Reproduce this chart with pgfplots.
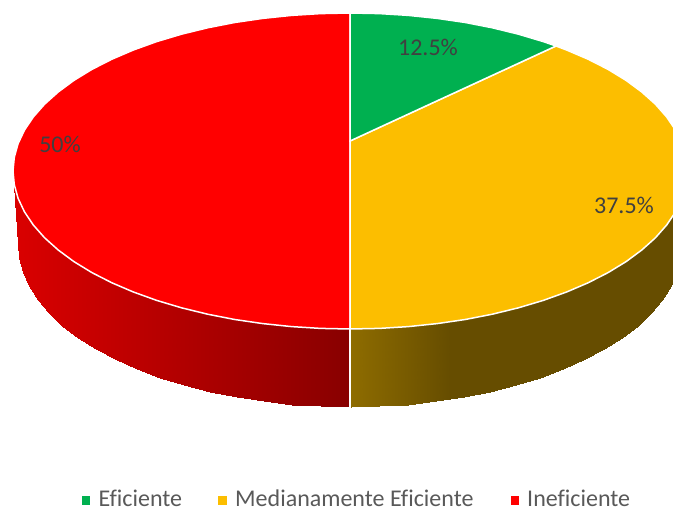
\documentclass[border=0pt]{standalone}
\usepackage{pgfplots}
\pgfplotsset{compat=1.18}
\usepackage{fontspec}
\setmainfont[Ligatures=NoCommon]{Carlito}
\definecolor{cgreen}{RGB}{0,176,80}
\definecolor{cyellow}{RGB}{252,190,0}
\definecolor{cred}{RGB}{255,0,0}
\definecolor{ctext}{RGB}{64,64,64}
\definecolor{clegend}{RGB}{89,89,89}
\pgfplotsset{colormap={side}{rgb255(14pt)=(218,0,0) rgb255(350pt)=(136,0,0) rgb255(351pt)=(142,108,0) rgb255(450pt)=(102,77,0) rgb255(682pt)=(102,77,0)}}
\begin{document}
\begin{tikzpicture}
\useasboundingbox (0,0) rectangle (673pt,508pt);
\clip (0,0) rectangle (673pt,508pt);
\begin{axis}[
  at={(0,0)},anchor=south west,
  width=673pt,height=508pt,scale only axis,hide axis,
  xmin=0,xmax=673,ymin=0,ymax=508,y dir=reverse,
  clip=true,
  colormap name=side,
  point meta min=14,point meta max=682,
]
% side walls
\addplot[surf,shader=interp,mesh/rows=2,point meta=x] table {
x y
14.3 185
18 190
19.3 190
23 190
29.3 190
38 190
49.1 190
62.5 190
78 190
95.7 190
115.2 190
136.6 190
159.6 190
184 190
209.7 190
236.5 190
264.1 190
292.4 190
321.1 190
350 190
18 244
18 244
19.3 258.2
23 272.3
29.3 286.2
38 299.7
49.1 312.9
62.5 325.5
78 337.5
95.7 348.8
115.2 359.3
136.6 368.9
159.6 377.5
184 385.2
209.7 391.7
236.5 397.2
264.1 401.4
292.4 404.5
321.1 406.4
350 407
};
\addplot[surf,shader=interp,mesh/rows=2,point meta=x] table {
x y
351 190
378.9 190
407.6 190
435.9 190
463.5 190
490.3 190
516 190
540.4 190
563.4 190
584.8 190
604.3 190
622 190
637.5 190
650.7 190
662 190
670.7 190
677 190
682 190
351 407
378.9 406.4
407.6 404.5
435.9 401.4
463.5 397.2
490.3 391.7
516 385.2
540.4 377.5
563.4 368.9
584.8 359.3
604.3 348.8
622 337.5
637.5 325.5
650.7 312.9
662 299.7
670.7 286.2
677 272.3
682 244
};
\addplot[white,line width=1.5pt] coordinates {(350,325) (350,407.5)};
% top faces
\addplot[fill=cred,draw=white,line width=1.5pt] coordinates {
(350,13)(320.6,13.6)(291.5,15.4)(262.8,18.4)(234.7,22.5)(207.6,27.8)(181.5,34.2)(156.7,41.6)(133.4,50)(111.7,59.3)(91.9,69.4)(73.9,80.4)(58.2,92)(44.6,104.2)(33.3,117)(24.5,130.1)(18.1,143.6)(14.3,157.2)(13,171)
(14.3,184.8)(18.1,198.4)(24.5,211.9)(33.3,225)(44.6,237.8)(58.2,250)(73.9,261.6)(91.9,272.6)(111.7,282.7)(133.4,292)(156.7,300.4)(181.5,307.8)(207.6,314.2)(234.7,319.5)(262.8,323.6)(291.5,326.6)(320.6,328.4)(350,329)
} -- cycle;
\addplot[fill=cyellow,draw=white,line width=1.5pt] coordinates {
(350,141)(556,46)(566.6,50)(588.3,59.3)(608.1,69.4)(626.1,80.4)(641.8,92)(655.4,104.2)(666.7,117)(675.5,130.1)(681.9,143.6)(685.7,157.2)(687,171)
(685.7,184.8)(681.9,198.4)(675.5,211.9)(666.7,225)(655.4,237.8)(641.8,250)(626.1,261.6)(608.1,272.6)(588.3,282.7)(566.6,292)(543.3,300.4)(518.5,307.8)(492.4,314.2)(465.3,319.5)(437.2,323.6)(408.5,326.6)(379.4,328.4)(350,329)
} -- cycle;
\addplot[fill=cgreen,draw=white,line width=1.5pt] coordinates {
(350,141)(350,13)(379.4,13.6)(408.5,15.4)(437.2,18.4)(465.3,22.5)(492.4,27.8)(518.5,34.2)(543.3,41.6)(556,46)
} -- cycle;
% legend markers
\addplot[only marks,mark=square*,mark size=3.7pt,color=cgreen] coordinates {(85.5,500)};
\addplot[only marks,mark=square*,mark size=3.7pt,color=cyellow] coordinates {(222,500)};
\addplot[only marks,mark=square*,mark size=3.7pt,color=cred] coordinates {(514.5,500)};
% labels
\node[text=ctext,font=\fontsize{24}{28}\selectfont] at (axis cs:428,47) {12.5\%};
\node[text=ctext,font=\fontsize{24}{28}\selectfont] at (axis cs:624,205) {37.5\%};
\node[text=ctext,font=\fontsize{24}{28}\selectfont] at (axis cs:60,144) {50\%};
\node[text=clegend,anchor=west,inner sep=0pt,font=\fontsize{24}{28}\selectfont] at (axis cs:98.5,498.5) {Eficiente};
\node[text=clegend,anchor=west,inner sep=0pt,font=\fontsize{24}{28}\selectfont] at (axis cs:235,498.5) {Medianamente Eficiente};
\node[text=clegend,anchor=west,inner sep=0pt,font=\fontsize{24}{28}\selectfont] at (axis cs:527,498.5) {Ineficiente};
\end{axis}
\end{tikzpicture}
\end{document}
